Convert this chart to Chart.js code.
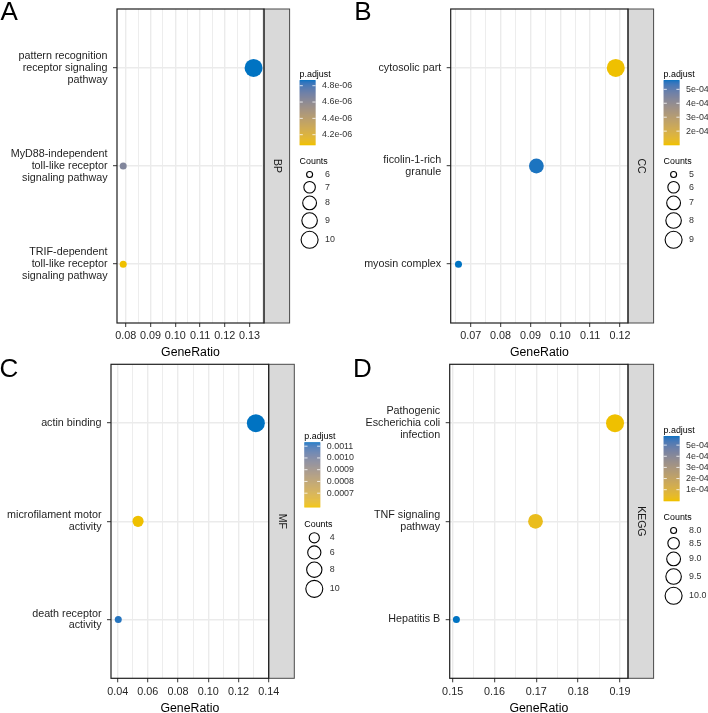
<!DOCTYPE html>
<html lang="en">
<head>
<meta charset="UTF-8" />
<title>Enrichment dot plots</title>
<script src="https://cdn.jsdelivr.net/npm/chart.js"></script>
<style>
  body { margin: 0; background: #fff; }
  #wrap { position: relative; width: 708px; height: 713px; overflow: hidden; }
  #wrap canvas { position: absolute; }
</style>
</head>
<body>
<div id="wrap">
  <canvas id="panelA" width="354" height="362" style="left:0px;top:0px"></canvas>
  <canvas id="panelB" width="354" height="362" style="left:354px;top:0px"></canvas>
  <canvas id="panelC" width="354" height="362" style="left:0px;top:351px"></canvas>
  <canvas id="panelD" width="354" height="362" style="left:354px;top:351px"></canvas>
</div>
<script>
// ---- data (rows top to bottom) ----
// A: BP
const catsA = ['pattern recognition\nreceptor signaling\npathway', 'MyD88-independent\ntoll-like receptor\nsignaling pathway', 'TRIF-dependent\ntoll-like receptor\nsignaling pathway'];
const ratioA = [0.1316, 0.0790, 0.0790];
const countsA = [10, 6, 6];
const padjA = [4.87e-6, 4.65e-6, 4.08e-6];
const xTicksA = ['0.08', '0.09', '0.10', '0.11', '0.12', '0.13'];
const xRangeA = [0.0765, 0.1358];
const padjLabelsA = ['4.2e-06', '4.4e-06', '4.6e-06', '4.8e-06'];
const countLabelsA = ['6', '7', '8', '9', '10'];

// B: CC
const catsB = ['cytosolic part', 'ficolin-1-rich\ngranule', 'myosin complex'];
const ratioB = [0.1186, 0.0920, 0.0659];
const countsB = [9, 7, 5];
const padjB = [1.04e-4, 5.6e-4, 5.67e-4];
const xTicksB = ['0.07', '0.08', '0.09', '0.10', '0.11', '0.12'];
const xRangeB = [0.0633, 0.1227];
const padjLabelsB = ['2e-04', '3e-04', '4e-04', '5e-04'];
const countLabelsB = ['5', '6', '7', '8', '9'];

// C: MF
const catsC = ['actin binding', 'microfilament motor\nactivity', 'death receptor\nactivity'];
const ratioC = [0.1315, 0.0535, 0.0404];
const countsC = [10, 4, 3];
const padjC = [1.134e-3, 5.85e-4, 1.12e-3];
const xTicksC = ['0.04', '0.06', '0.08', '0.10', '0.12', '0.14'];
const xRangeC = [0.0356, 0.1400];
const padjLabelsC = ['0.0007', '0.0008', '0.0009', '0.0010', '0.0011'];
const countLabelsC = ['4', '6', '8', '10'];

// D: KEGG
const catsD = ['Pathogenic\nEscherichia coli\ninfection', 'TNF signaling\npathway', 'Hepatitis B'];
const ratioD = [0.1888, 0.1698, 0.1509];
const countsD = [10, 9, 8];
const padjD = [3.0e-6, 2.6e-5, 5.82e-4];
const xTicksD = ['0.15', '0.16', '0.17', '0.18', '0.19'];
const xRangeD = [0.1493, 0.1919];
const padjLabelsD = ['1e-04', '2e-04', '3e-04', '4e-04', '5e-04'];
const countLabelsD = ['8.0', '8.5', '9.0', '9.5', '10.0'];

// ---- style ----
const FONT = "'Liberation Sans', Arial, Helvetica, sans-serif";
const HIGH = '#0073C2', LOW = '#EFC000';
const D_MIN = 7, D_MAX = 18;   // point diameter range, px

// colour ramp interpolated in CIELAB (like ggplot's gradient)
function hexRgb(h) { return [1, 3, 5].map(i => parseInt(h.slice(i, i + 2), 16)); }
function rgbLab(rgb) {
  const [r, g, b] = rgb.map(c => { c /= 255; return c <= 0.04045 ? c / 12.92 : Math.pow((c + 0.055) / 1.055, 2.4); });
  const x = (0.4124564 * r + 0.3575761 * g + 0.1804375 * b) / 0.95047;
  const y = 0.2126729 * r + 0.7151522 * g + 0.0721750 * b;
  const z = (0.0193339 * r + 0.1191920 * g + 0.9503041 * b) / 1.08883;
  const f = t => t > 216 / 24389 ? Math.cbrt(t) : (24389 / 27 * t + 16) / 116;
  return [116 * f(y) - 16, 500 * (f(x) - f(y)), 200 * (f(y) - f(z))];
}
function labRgb([L, a, bb]) {
  const fy = (L + 16) / 116, fx = fy + a / 500, fz = fy - bb / 200;
  const inv = t => t * t * t > 216 / 24389 ? t * t * t : (116 * t - 16) / (24389 / 27);
  const x = inv(fx) * 0.95047, y = inv(fy), z = inv(fz) * 1.08883;
  const r = 3.2404542 * x - 1.5371385 * y - 0.4985314 * z;
  const g = -0.9692660 * x + 1.8760108 * y + 0.0415560 * z;
  const b = 0.0556434 * x - 0.2040259 * y + 1.0572252 * z;
  return [r, g, b].map(c => {
    c = c <= 0.0031308 ? 12.92 * c : 1.055 * Math.pow(c, 1 / 2.4) - 0.055;
    return Math.round(Math.min(1, Math.max(0, c)) * 255);
  });
}
const labLow = rgbLab(hexRgb(LOW)), labHigh = rgbLab(hexRgb(HIGH));
function ramp(t) {
  const c = labRgb(labLow.map((v, i) => v + (labHigh[i] - v) * t));
  return `rgb(${c[0]},${c[1]},${c[2]})`;
}

// ---- layout, page coordinates ----
const panels = [
  { id: 'panelA', letter: 'A', strip: 'BP', cx: 0, cy: 0, plot: [117, 8, 264, 323], letterX: 0.5, letterY: 20.3, legendTop: 74.5, titleY: 352.4,
    cats: catsA, ratio: ratioA, counts: countsA, padj: padjA, xTicks: xTicksA, xRange: xRangeA, padjLabels: padjLabelsA, countLabels: countLabelsA },
  { id: 'panelB', letter: 'B', strip: 'CC', cx: 354, cy: 0, plot: [450.7, 8, 628, 323], letterX: 354.3, letterY: 20.3, legendTop: 74.5, titleY: 352.4,
    cats: catsB, ratio: ratioB, counts: countsB, padj: padjB, xTicks: xTicksB, xRange: xRangeB, padjLabels: padjLabelsB, countLabels: countLabelsB },
  { id: 'panelC', letter: 'C', strip: 'MF', cx: 0, cy: 351, plot: [111, 364.3, 268.7, 678.3], letterX: -0.5, letterY: 376.5, legendTop: 436.7, titleY: 708.4,
    cats: catsC, ratio: ratioC, counts: countsC, padj: padjC, xTicks: xTicksC, xRange: xRangeC, padjLabels: padjLabelsC, countLabels: countLabelsC },
  { id: 'panelD', letter: 'D', strip: 'KEGG', cx: 354, cy: 351, plot: [449.7, 364.3, 628, 678.3], letterX: 353, letterY: 376.5, legendTop: 430.5, titleY: 708.4,
    cats: catsD, ratio: ratioD, counts: countsD, padj: padjD, xTicks: xTicksD, xRange: xRangeD, padjLabels: padjLabelsD, countLabels: countLabelsD }
];

const STRIP_W = 25.6, CANVAS_W = 354, CANVAS_H = 362;

function makePanel(p) {
  const n = p.cats.length;
  const cMin = Math.min(...p.counts), cMax = Math.max(...p.counts);
  const pMin = Math.min(...p.padj), pMax = Math.max(...p.padj);
  const diam = c => D_MIN + (D_MAX - D_MIN) * Math.sqrt((c - cMin) / (cMax - cMin));
  const colorOf = v => ramp((v - pMin) / (pMax - pMin));

  // major ticks from the labels, minor ticks halfway between
  const majors = p.xTicks.map(Number);
  const half = (majors[1] - majors[0]) / 2;
  const allTicks = [];
  for (let k = -1; k < majors.length * 2; k++) {
    const v = +(majors[0] + k * half).toFixed(6);
    if (v >= p.xRange[0] - 1e-9 && v <= p.xRange[1] + 1e-9) allTicks.push(v);
  }
  const majorIndex = v => majors.findIndex(m => Math.abs(m - v) < 1e-7);

  // plot rect in canvas coords
  const L = p.plot[0] - p.cx, T = p.plot[1] - p.cy, R = p.plot[2] - p.cx, B = p.plot[3] - p.cy;
  const titleFont = { family: FONT, size: 12.3, lineHeight: 0.6 };
  const titlePad = CANVAS_H - (p.titleY - p.cy) - 12.3 * 0.6 / 2;

  const decor = {
    id: 'decor',
    afterDraw(chart) {
      const ctx = chart.ctx;
      const a = chart.chartArea;
      ctx.save();
      // facet strip
      const sx = a.right, sw = STRIP_W;
      ctx.fillStyle = '#D9D9D9';
      ctx.fillRect(sx, a.top, sw, a.bottom - a.top);
      ctx.strokeStyle = '#4a4a4a';
      ctx.lineWidth = 1;
      ctx.strokeRect(sx, a.top, sw, a.bottom - a.top);
      ctx.save();
      ctx.translate(sx + sw / 2, (a.top + a.bottom) / 2);
      ctx.rotate(Math.PI / 2);
      ctx.fillStyle = '#1a1a1a';
      ctx.font = `10.5px ${FONT}`;
      ctx.textAlign = 'center';
      ctx.textBaseline = 'middle';
      ctx.fillText(p.strip, 0, 0);
      ctx.restore();
      // panel border
      ctx.strokeStyle = '#1f1f1f';
      ctx.lineWidth = 1.2;
      ctx.strokeRect(a.left, a.top, a.right - a.left, a.bottom - a.top);
      // panel letter
      ctx.fillStyle = '#000';
      ctx.font = `26px ${FONT}`;
      ctx.textAlign = 'left';
      ctx.textBaseline = 'alphabetic';
      ctx.fillText(p.letter, p.letterX - p.cx, p.letterY - p.cy);

      // legends
      const lx = sx + sw + 10;
      let y = p.legendTop - p.cy;
      ctx.font = `8.9px ${FONT}`;
      ctx.textBaseline = 'middle';
      ctx.fillStyle = '#000';
      ctx.fillText('p.adjust', lx, y);
      const barTop = y + 5.5, barH = 64.5, barW = 16;
      for (let i = 0; i < barH; i++) {
        ctx.fillStyle = ramp(1 - (i + 0.5) / barH);
        ctx.fillRect(lx, barTop + i, barW, 1.3);
      }
      ctx.strokeStyle = '#fff';
      ctx.lineWidth = 0.8;
      p.padjLabels.forEach(lbl => {
        const v = parseFloat(lbl);
        const ty = barTop + (pMax - v) / (pMax - pMin) * barH;
        ctx.beginPath();
        ctx.moveTo(lx, ty); ctx.lineTo(lx + barW / 5, ty);
        ctx.moveTo(lx + barW * 4 / 5, ty); ctx.lineTo(lx + barW, ty);
        ctx.stroke();
        ctx.fillStyle = '#333';
        ctx.fillText(lbl, lx + 22.5, ty);
      });
      // size legend
      y = barTop + barH + 17.5;
      ctx.fillStyle = '#000';
      ctx.fillText('Counts', lx, y);
      let ky = y + 7;
      ctx.strokeStyle = '#000';
      ctx.lineWidth = 1.1;
      p.countLabels.forEach(lbl => {
        const d = diam(parseFloat(lbl));
        const h = Math.max(d + 2, 11);
        const cy = ky + h / 2;
        ctx.beginPath();
        ctx.arc(lx + 10, cy, d / 2 - 0.5, 0, Math.PI * 2);
        ctx.stroke();
        ctx.fillStyle = '#333';
        ctx.fillText(lbl, lx + 25.5, cy);
        ky += h;
      });
      ctx.restore();
    }
  };

  return new Chart(document.getElementById(p.id), {
    type: 'scatter',
    data: {
      datasets: [{
        data: p.ratio.map((x, i) => ({ x: x, y: n - i })),
        pointRadius: c => diam(p.counts[c.dataIndex]) / 2,
        pointHoverRadius: c => diam(p.counts[c.dataIndex]) / 2,
        backgroundColor: c => colorOf(p.padj[c.dataIndex]),
        borderWidth: 0
      }]
    },
    options: {
      responsive: false,
      animation: false,
      events: [],
      layout: { padding: { left: 0, top: T, right: CANVAS_W - R, bottom: 0 } },
      plugins: { legend: { display: false }, tooltip: { enabled: false } },
      scales: {
        x: {
          type: 'linear',
          min: p.xRange[0],
          max: p.xRange[1],
          afterBuildTicks: s => { s.ticks = allTicks.map(v => ({ value: v })); },
          afterFit: s => { s.height = CANVAS_H - B; s.paddingLeft = 0; s.paddingRight = 0; },
          border: { display: false },
          grid: {
            color: '#EBEBEB',
            lineWidth: c => (c.tick && majorIndex(c.tick.value) >= 0) ? 1.4 : 0.9,
            tickColor: c => (c.tick && majorIndex(c.tick.value) >= 0) ? '#333' : 'rgba(0,0,0,0)',
            tickWidth: 1,
            tickLength: 4
          },
          ticks: {
            autoSkip: false,
            maxRotation: 0,
            minRotation: 0,
            padding: 3.5,
            color: '#262626',
            font: { family: FONT, size: 10.8, lineHeight: 1.09 },
            callback: v => { const i = majorIndex(v); return i >= 0 ? p.xTicks[i] : ''; }
          },
          title: { display: true, text: 'GeneRatio', color: '#000', font: titleFont, padding: { top: 0, bottom: titlePad } }
        },
        y: {
          type: 'linear',
          min: 0.4,
          max: n + 0.6,
          afterBuildTicks: s => { s.ticks = p.cats.map((_, i) => ({ value: i + 1 })); },
          afterFit: s => { s.width = L; s.paddingTop = 0; s.paddingBottom = 0; },
          border: { display: false },
          grid: { color: '#EBEBEB', lineWidth: 1.4, tickColor: '#333', tickWidth: 1, tickLength: 4 },
          ticks: {
            padding: 5.5,
            color: '#1f1f1f',
            font: { family: FONT, size: 10.75, lineHeight: 1.09 },
            callback: v => p.cats[n - v].split('\n')
          }
        }
      }
    },
    plugins: [decor]
  });
}

panels.forEach(makePanel);
</script>
</body>
</html>
